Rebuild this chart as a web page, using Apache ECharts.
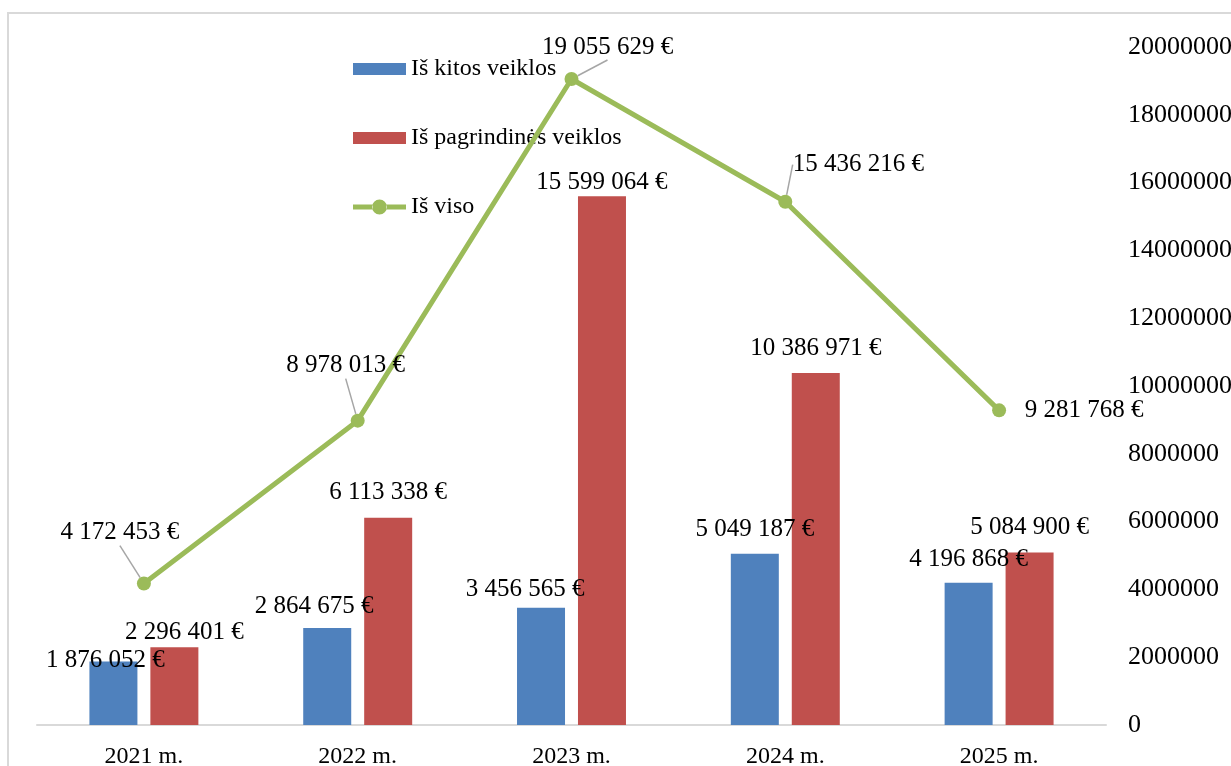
<!DOCTYPE html>
<html>
<head>
<meta charset="utf-8">
<script src="https://cdn.jsdelivr.net/npm/echarts@6/dist/echarts.min.js"></script>
<style>
  html, body { margin: 0; padding: 0; background: #ffffff; }
  #chart { width: 1231px; height: 766px; }
</style>
</head>
<body>
<div id="chart"></div>
<script>
// ---- data ----
const categories = ['2021 m.', '2022 m.', '2023 m.', '2024 m.', '2025 m.'];
const seriesNames = ['Iš kitos veiklos', 'Iš pagrindinės veiklos', 'Iš viso'];
const kitosVeikla = [1876052, 2864675, 3456565, 5049187, 4196868];
const pagrindineVeikla = [2296401, 6113338, 15599064, 10386971, 5084900];
const isVisoTotal = [4172453, 8978013, 19055629, 15436216, 9281768];
const axisMin = 0;
const axisMax = 20000000;
const axisStep = 2000000;

// ---- label placement (offsets in px, kept apart from data) ----
const kitosLabelShift = [[-8, 12], [-13, -8], [-16, -5], [0, -11], [0, -10]];
const pagrLabelShift = [[10, -2], [0, -12], [0, -1], [0, -11], [0, -12]];
const visoLabelShift = [[-24, -51], [-12, -55], [36, -32], [73, -37], [85, 0]];

const COL_BLUE = '#4F81BD';
const COL_RED = '#C0504D';
const COL_GREEN = '#9BBB59';
const FONT = '"Liberation Serif", "Times New Roman", serif';

// legend icons (box 53 x 15; zero-length moves keep the box size)
const ICON_BAR = 'path://M0,0L0,0M0,1.5h53v12h-53zM53,15L53,15';
const ICON_LINE = 'path://M0,0L0,0M0,5h19.6v5h-19.6zM33.4,5h19.6v5h-19.6zM19,7.5a7.5,7.5 0 1,0 15,0a7.5,7.5 0 1,0 -15,0zM53,15L53,15';

function euro(v) {
  return String(v).replace(/\B(?=(\d{3})+(?!\d))/g, ' ') + ' €';
}

function barItems(values, shifts) {
  return values.map((v, i) => ({
    value: v,
    label: { offset: shifts[i] }
  }));
}

const lineItems = isVisoTotal.map((v, i) => {
  const item = { value: v };
  if (i === isVisoTotal.length - 1) item.labelLine = { show: false };
  return item;
});

const barLabel = {
  show: true,
  position: 'top',
  distance: 0,
  color: '#000',
  fontFamily: FONT,
  fontSize: 25,
  lineHeight: 26,
  formatter: p => euro(p.value)
};

const chart = echarts.init(document.getElementById('chart'), null, { renderer: 'canvas' });

const option = {
  animation: false,
  backgroundColor: '#ffffff',
  graphic: [{
    type: 'rect',
    silent: true,
    z: -10,
    shape: { x: 8, y: 13, width: 1400, height: 1000 },
    style: { fill: 'none', stroke: '#d9d9d9', lineWidth: 2 }
  }],
  grid: { left: 37, right: 125, top: 47, bottom: 41, containLabel: false, outerBoundsMode: 'none' },
  legend: {
    orient: 'vertical',
    left: 353,
    top: 57,
    padding: 0,
    itemWidth: 53,
    itemHeight: 15,
    itemGap: 45,
    data: [
      { name: seriesNames[0], icon: ICON_BAR },
      { name: seriesNames[1], icon: ICON_BAR },
      { name: seriesNames[2], icon: ICON_LINE, itemStyle: { borderWidth: 0 } }
    ],
    textStyle: { color: '#000', fontFamily: FONT, fontSize: 24, lineHeight: 24 }
  },
  xAxis: {
    type: 'category',
    data: categories,
    axisLine: { show: true, lineStyle: { color: '#d9d9d9', width: 2 } },
    axisTick: { show: false },
    axisLabel: { color: '#000', fontFamily: FONT, fontSize: 24, margin: 20 },
    splitLine: { show: false }
  },
  yAxis: {
    type: 'value',
    position: 'right',
    min: axisMin,
    max: axisMax,
    interval: axisStep,
    axisLine: { show: false },
    axisTick: { show: false },
    splitLine: { show: false },
    axisLabel: { color: '#000', fontFamily: FONT, fontSize: 26, margin: 22, formatter: v => String(v) }
  },
  series: [
    {
      name: seriesNames[0],
      type: 'bar',
      barWidth: 48,
      barGap: '27%',
      itemStyle: { color: COL_BLUE },
      label: barLabel,
      data: barItems(kitosVeikla, kitosLabelShift),
      z: 2
    },
    {
      name: seriesNames[1],
      type: 'bar',
      barWidth: 48,
      barGap: '27%',
      itemStyle: { color: COL_RED },
      label: barLabel,
      data: barItems(pagrindineVeikla, pagrLabelShift),
      z: 2
    },
    {
      name: seriesNames[2],
      type: 'line',
      symbol: 'circle',
      symbolSize: 14,
      lineStyle: { color: COL_GREEN, width: 5 },
      itemStyle: { color: COL_GREEN },
      label: {
        show: true,
        position: 'inside',
        color: '#000',
        fontFamily: FONT,
        fontSize: 25,
        lineHeight: 26,
        formatter: p => euro(p.value)
      },
      labelLine: { show: true, lineStyle: { color: '#a6a6a6', width: 1.5 } },
      labelLayout: p => ({ dx: visoLabelShift[p.dataIndex][0], dy: visoLabelShift[p.dataIndex][1] }),
      data: lineItems,
      z: 5
    }
  ]
};

chart.setOption(option);
</script>
</body>
</html>
